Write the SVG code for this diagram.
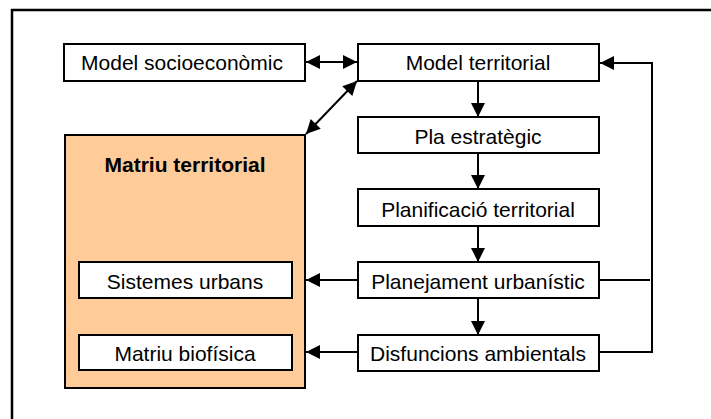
<svg xmlns="http://www.w3.org/2000/svg" width="711" height="419" viewBox="0 0 711 419">
  <defs>
    <marker id="ah" viewBox="0 0 10 10" refX="10" refY="5" markerWidth="7.5" markerHeight="7" orient="auto-start-reverse" markerUnits="strokeWidth">
      <path d="M0,0 L10,5 L0,10 z" fill="#000"/>
    </marker>
  </defs>
  <style>
    .box { fill: #fff; stroke: #000; stroke-width: 2; }
    .lbl { font-family: "Liberation Sans", Arial, sans-serif; font-size: 21px; fill: #000; text-anchor: middle; }
    .bold { font-weight: bold; }
    .con { fill: none; stroke: #000; stroke-width: 2; }
  </style>
  <rect width="711" height="419" fill="#fff"/>
  <path d="M12,419 L12,10 L711,10" fill="none" stroke="#000" stroke-width="2.5"/>

  <g id="matriu-territorial">
    <rect x="65" y="135" width="240" height="253" fill="#ffcc99" stroke="#000" stroke-width="2"/>
    <text class="lbl bold" x="185" y="172">Matriu territorial</text>
  </g>
  <g id="model-socioeconomic">
    <rect class="box" x="64" y="44" width="241" height="37"/>
    <text class="lbl" x="182" y="70">Model socioeconòmic</text>
  </g>
  <g id="model-territorial">
    <rect class="box" x="358" y="44" width="241" height="37"/>
    <text class="lbl" x="478" y="70">Model territorial</text>
  </g>
  <g id="pla-estrategic">
    <rect class="box" x="358" y="117" width="241" height="36"/>
    <text class="lbl" x="478" y="144">Pla estratègic</text>
  </g>
  <g id="planificacio-territorial">
    <rect class="box" x="358" y="189" width="241" height="37"/>
    <text class="lbl" x="478" y="217">Planificació territorial</text>
  </g>
  <g id="planejament-urbanistic">
    <rect class="box" x="358" y="262" width="241" height="36"/>
    <text class="lbl" x="478" y="289">Planejament urbanístic</text>
  </g>
  <g id="disfuncions-ambientals">
    <rect class="box" x="358" y="335" width="241" height="36"/>
    <text class="lbl" x="478" y="361">Disfuncions ambientals</text>
  </g>
  <g id="sistemes-urbans">
    <rect class="box" x="79" y="262" width="213" height="36"/>
    <text class="lbl" x="185" y="289">Sistemes urbans</text>
  </g>
  <g id="matriu-biofisica">
    <rect class="box" x="79" y="335" width="213" height="35"/>
    <text class="lbl" x="185" y="361">Matriu biofísica</text>
  </g>

  <g id="connectors">
    <line class="con" x1="306" y1="62" x2="357" y2="62" marker-start="url(#ah)" marker-end="url(#ah)"/>
    <line class="con" x1="357" y1="81" x2="306" y2="134" marker-start="url(#ah)" marker-end="url(#ah)"/>
    <line class="con" x1="478" y1="81" x2="478" y2="117" marker-end="url(#ah)"/>
    <line class="con" x1="478" y1="153" x2="478" y2="189" marker-end="url(#ah)"/>
    <line class="con" x1="478" y1="226" x2="478" y2="262" marker-end="url(#ah)"/>
    <line class="con" x1="478" y1="298" x2="478" y2="335" marker-end="url(#ah)"/>
    <line class="con" x1="358" y1="280" x2="306" y2="280" marker-end="url(#ah)"/>
    <line class="con" x1="358" y1="352" x2="306" y2="352" marker-end="url(#ah)"/>
    <line class="con" x1="599" y1="280" x2="650" y2="280"/>
    <polyline class="con" points="599,352 652,352 652,63 600,63" marker-end="url(#ah)"/>
  </g>
</svg>
